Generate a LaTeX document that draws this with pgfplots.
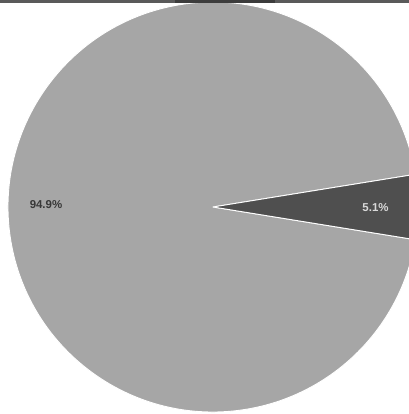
\documentclass[border=0pt]{standalone}
\usepackage{fontspec}
\setmainfont{Liberation Sans}
\usepackage{pgfplots}
\usepackage{pgfplotstable}
\pgfplotsset{compat=1.18}
\definecolor{bigslice}{HTML}{A6A6A6}
\definecolor{smallslice}{HTML}{4F4F4F}
\definecolor{bandA}{HTML}{5A5A5A}
\definecolor{bandB}{HTML}{3C3C3C}
\pgfplotstableread{
label value
A 94.9
B 5.1
}\piedata
\tikzset{lbl/.style={font=\bfseries\fontsize{11.5}{13}\selectfont,inner sep=1bp}}
\begin{document}
\begin{tikzpicture}[x=1bp,y=1bp]
\useasboundingbox (0,0) rectangle (409,414);
\pgfplotstablegetelem{0}{value}\of\piedata \pgfmathsetmacro\va{\pgfplotsretval}
\pgfplotstablegetelem{1}{value}\of\piedata \pgfmathsetmacro\vb{\pgfplotsretval}
\pgfmathsetmacro\halfb{\vb*1.8}
\pgfmathsetmacro\bstart{-\halfb}
\pgfmathsetmacro\astart{\halfb}
\pgfmathsetmacro\aend{\halfb+\va*3.6}
\pgfkeys{/pgf/number format/.cd,fixed,precision=1,fixed zerofill,assume math mode=true}
\begin{scope}
\clip (0,0) rectangle (409,414);
\begin{axis}[at={(0,0)},anchor=south west,scale only axis,width=409bp,height=414bp,
  xmin=0,xmax=409,ymin=0,ymax=414,hide axis,clip=false]
\filldraw[fill=bigslice,draw=white,line width=0.9bp,line join=round]
  (axis cs:213,207) -- ++(\astart:205bp) arc[start angle=\astart,end angle=\aend,radius=205bp] -- cycle;
\filldraw[fill=smallslice,draw=white,line width=0.9bp,line join=round]
  (axis cs:213,207) -- ++(\bstart:205bp) arc[start angle=\bstart,end angle=\halfb,radius=205bp] -- cycle;
\node[lbl,text=black!78] at (axis cs:46,209) {\pgfmathprintnumber{\va}\%};
\node[lbl,text=white!85!black] at (axis cs:375.5,206) {\pgfmathprintnumber{\vb}\%};
\end{axis}
\end{scope}
\fill[bandA] (0,411) rectangle (409,414);
\fill[bandB] (175,411) rectangle (275,414);
\end{tikzpicture}
\end{document}
